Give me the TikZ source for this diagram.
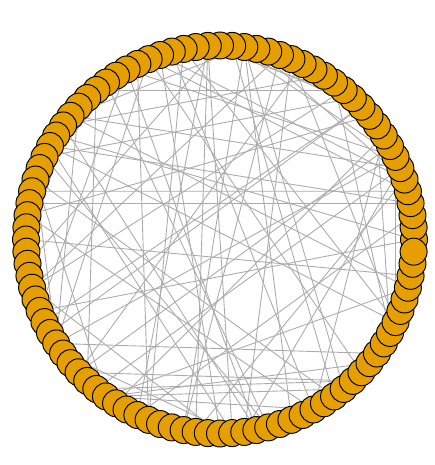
\documentclass[tikz,border=0pt]{standalone}
\usepackage{tikz}
\usetikzlibrary{backgrounds}
\definecolor{vorange}{HTML}{E69F00}
\tikzset{vertex/.style={circle, draw=black, fill=vorange, line width=0.55pt,
    minimum size=0.54cm, inner sep=0pt},
  link/.style={draw=black!33, line width=0.5pt}}

\begin{document}
\begin{tikzpicture}[x=0.02cm,y=0.02cm]
  \useasboundingbox (0,0) rectangle (434,465);
  %vertices
  \foreach \i in {0,...,99}
      \node[vertex] (v\i) at ({220+194*cos(3.6*\i)},{225.5+194*sin(3.6*\i)}) {};
  %edges
  \begin{scope}[on background layer]
    \draw[link] (v3.center) -- (v47.center);
    \draw[link] (v4.center) -- (v46.center);
    \pgfmathsetseed{2718}
    \foreach \k in {1,...,95}{
        \pgfmathtruncatemacro{\a}{random(0,99)}
        \pgfmathtruncatemacro{\b}{random(0,99)}
        \ifnum\a=\b\else \draw[link] (v\a.center) -- (v\b.center);\fi
    }
  \end{scope}
\end{tikzpicture}
\end{document}
